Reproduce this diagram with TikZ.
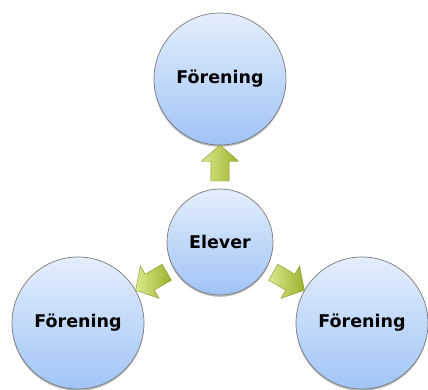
\documentclass[tikz,border=0pt]{standalone}
\usepackage{fontspec}
\setmainfont{DejaVu Sans}
\usetikzlibrary{shapes.arrows,shadows,calc}
\definecolor{blobtop}{HTML}{E4EEFC}
\definecolor{blobbot}{HTML}{A0C4F6}
\definecolor{blobline}{HTML}{7A7A7A}
\definecolor{pilljus}{HTML}{DCE98C}
\definecolor{pilmork}{HTML}{9CB02C}
\tikzset{
  blob/.style={circle,draw=blobline,line width=.7pt,top color=blobtop,bottom color=blobbot,
    minimum size=132pt,inner sep=0pt,font=\fontsize{17.5}{20}\selectfont\bfseries,
    drop shadow={shadow xshift=0pt,shadow yshift=-1.8pt,opacity=.45,fill=black!60}},
  pil/.style={single arrow,draw=pilmork!85!black,line width=.4pt,left color=pilljus,right color=pilmork,
    minimum height=36pt,single arrow head extend=9.5pt,
    single arrow head indent=0pt,single arrow tip angle=98,inner sep=9pt}
}
\begin{document}
\begin{tikzpicture}[x=1pt,y=-1pt]
\useasboundingbox (0,0) rectangle (428,390);
% cirklarna
\node[blob] (topp) at (220,79) {Förening};
\node[blob] (vanster) at (78,323) {Förening};
\node[blob] (hoger) at (362,323) {Förening};
\node[blob,minimum size=106pt] (elev) at (220,242) {Elever};
% pilarna
\node[pil,rotate=90] (p1) at ($(elev)!0.46!(topp)$) {};
\node[pil,rotate=210] (p2) at ($(elev)!0.46!(vanster)$) {};
\node[pil,rotate=-30] (p3) at ($(elev)!0.46!(hoger)$) {};
\end{tikzpicture}
\end{document}
